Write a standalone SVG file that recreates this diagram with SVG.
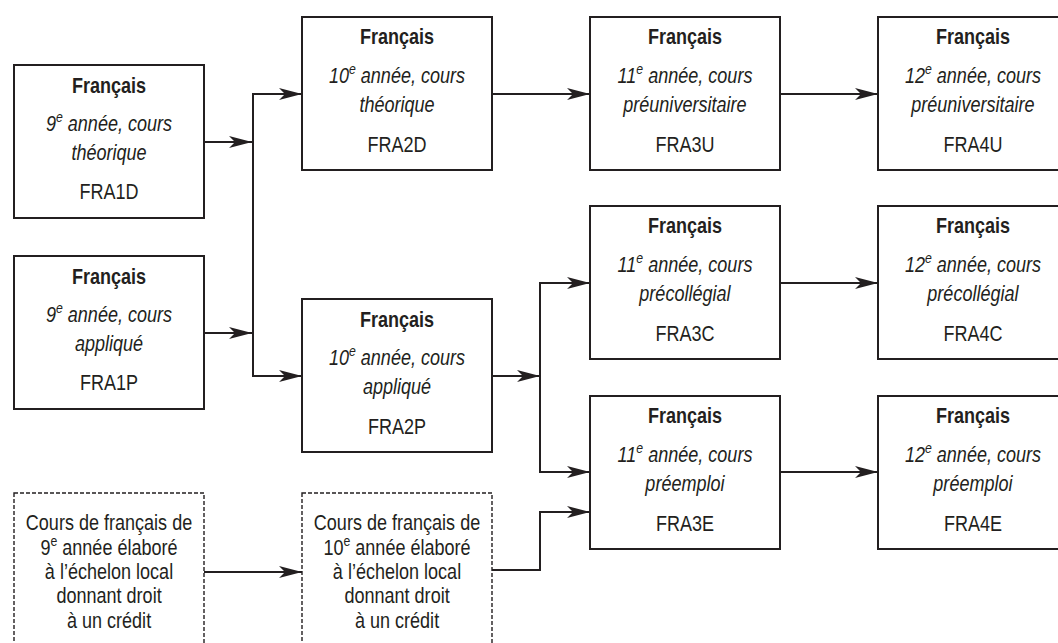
<svg xmlns="http://www.w3.org/2000/svg" width="1058" height="643" viewBox="0 0 1058 643">
<defs>
<style>
.box{fill:#fff;stroke:#231f20;stroke-width:2}
.dbox{fill:#fff;stroke:#231f20;stroke-width:1.4;stroke-dasharray:4 2}
.t{font-family:"Liberation Sans",Arial,sans-serif;font-size:22px;fill:#231f20;text-anchor:middle;transform-box:fill-box;transform-origin:center;transform:scaleX(0.82)}
.b{font-weight:bold}
.i{font-style:italic}
.sup{font-size:15px}
.c{fill:none;stroke:#231f20;stroke-width:2;marker-end:url(#ah)}
.l{fill:none;stroke:#231f20;stroke-width:2}
</style>
<marker id="ah" markerUnits="userSpaceOnUse" markerWidth="24" markerHeight="14" viewBox="-23 -7 24 14" refX="0" refY="0" orient="auto">
<path d="M0,0 L-23,-6 L-17,0 L-23,6 Z" fill="#231f20"/>
</marker>
</defs>
<rect width="1058" height="643" fill="#fff"/>

<g id="connectors">
<path class="c" d="M204,142 H252"/>
<path class="c" d="M204,333 H252"/>
<path class="l" d="M253,93 V377"/>
<path class="c" d="M253,94 H302"/>
<path class="c" d="M253,376 H302"/>
<path class="c" d="M492,94 H590"/>
<path class="c" d="M780,94 H878"/>
<path class="c" d="M492,376 H540"/>
<path class="l" d="M540,282 V473"/>
<path class="c" d="M540,283 H590"/>
<path class="c" d="M540,472 H590"/>
<path class="c" d="M780,283 H878"/>
<path class="c" d="M780,472 H878"/>
<path class="c" d="M204,572 H302"/>
<path class="c" d="M492,570 H540 V512 H590"/>
</g>

<g id="FRA1D">
<rect class="box" x="14" y="65" width="190" height="153"/>
<text class="t b" x="109" y="93">Français</text>
<text class="t i" x="109" y="131">9<tspan class="sup" dy="-9">e</tspan><tspan dy="9"> année, cours</tspan></text>
<text class="t i" x="109" y="160">théorique</text>
<text class="t" x="109" y="199">FRA1D</text>
</g>

<g id="FRA1P">
<rect class="box" x="14" y="256" width="190" height="153"/>
<text class="t b" x="109" y="284">Français</text>
<text class="t i" x="109" y="322">9<tspan class="sup" dy="-9">e</tspan><tspan dy="9"> année, cours</tspan></text>
<text class="t i" x="109" y="351">appliqué</text>
<text class="t" x="109" y="390">FRA1P</text>
</g>

<g id="local9">
<rect class="dbox" x="14" y="493" width="190" height="160"/>
<text class="t" x="109" y="530">Cours de français de</text>
<text class="t" x="109" y="555">9<tspan class="sup" dy="-9">e</tspan><tspan dy="9"> année élaboré</tspan></text>
<text class="t" x="109" y="579">à l’échelon local</text>
<text class="t" x="109" y="603">donnant droit</text>
<text class="t" x="109" y="628">à un crédit</text>
</g>

<g id="FRA2D">
<rect class="box" x="302" y="17" width="190" height="153"/>
<text class="t b" x="397" y="44">Français</text>
<text class="t i" x="397" y="83">10<tspan class="sup" dy="-9">e</tspan><tspan dy="9"> année, cours</tspan></text>
<text class="t i" x="397" y="112">théorique</text>
<text class="t" x="397" y="152">FRA2D</text>
</g>

<g id="FRA2P">
<rect class="box" x="302" y="299" width="190" height="153"/>
<text class="t b" x="397" y="327">Français</text>
<text class="t i" x="397" y="365">10<tspan class="sup" dy="-9">e</tspan><tspan dy="9"> année, cours</tspan></text>
<text class="t i" x="397" y="394">appliqué</text>
<text class="t" x="397" y="434">FRA2P</text>
</g>

<g id="local10">
<rect class="dbox" x="302" y="493" width="190" height="160"/>
<text class="t" x="397" y="530">Cours de français de</text>
<text class="t" x="397" y="555">10<tspan class="sup" dy="-9">e</tspan><tspan dy="9"> année élaboré</tspan></text>
<text class="t" x="397" y="579">à l’échelon local</text>
<text class="t" x="397" y="603">donnant droit</text>
<text class="t" x="397" y="628">à un crédit</text>
</g>

<g id="FRA3U">
<rect class="box" x="590" y="17" width="190" height="153"/>
<text class="t b" x="685" y="44">Français</text>
<text class="t i" x="685" y="83">11<tspan class="sup" dy="-9">e</tspan><tspan dy="9"> année, cours</tspan></text>
<text class="t i" x="685" y="112">préuniversitaire</text>
<text class="t" x="685" y="152">FRA3U</text>
</g>

<g id="FRA3C">
<rect class="box" x="590" y="206" width="190" height="153"/>
<text class="t b" x="685" y="233">Français</text>
<text class="t i" x="685" y="272">11<tspan class="sup" dy="-9">e</tspan><tspan dy="9"> année, cours</tspan></text>
<text class="t i" x="685" y="301">précollégial</text>
<text class="t" x="685" y="341">FRA3C</text>
</g>

<g id="FRA3E">
<rect class="box" x="590" y="396" width="190" height="153"/>
<text class="t b" x="685" y="423">Français</text>
<text class="t i" x="685" y="462">11<tspan class="sup" dy="-9">e</tspan><tspan dy="9"> année, cours</tspan></text>
<text class="t i" x="685" y="491">préemploi</text>
<text class="t" x="685" y="531">FRA3E</text>
</g>

<g id="FRA4U">
<rect class="box" x="878" y="17" width="190" height="153"/>
<text class="t b" x="973" y="44">Français</text>
<text class="t i" x="973" y="83">12<tspan class="sup" dy="-9">e</tspan><tspan dy="9"> année, cours</tspan></text>
<text class="t i" x="973" y="112">préuniversitaire</text>
<text class="t" x="973" y="152">FRA4U</text>
</g>

<g id="FRA4C">
<rect class="box" x="878" y="206" width="190" height="153"/>
<text class="t b" x="973" y="233">Français</text>
<text class="t i" x="973" y="272">12<tspan class="sup" dy="-9">e</tspan><tspan dy="9"> année, cours</tspan></text>
<text class="t i" x="973" y="301">précollégial</text>
<text class="t" x="973" y="341">FRA4C</text>
</g>

<g id="FRA4E">
<rect class="box" x="878" y="396" width="190" height="153"/>
<text class="t b" x="973" y="423">Français</text>
<text class="t i" x="973" y="462">12<tspan class="sup" dy="-9">e</tspan><tspan dy="9"> année, cours</tspan></text>
<text class="t i" x="973" y="491">préemploi</text>
<text class="t" x="973" y="531">FRA4E</text>
</g>
</svg>
